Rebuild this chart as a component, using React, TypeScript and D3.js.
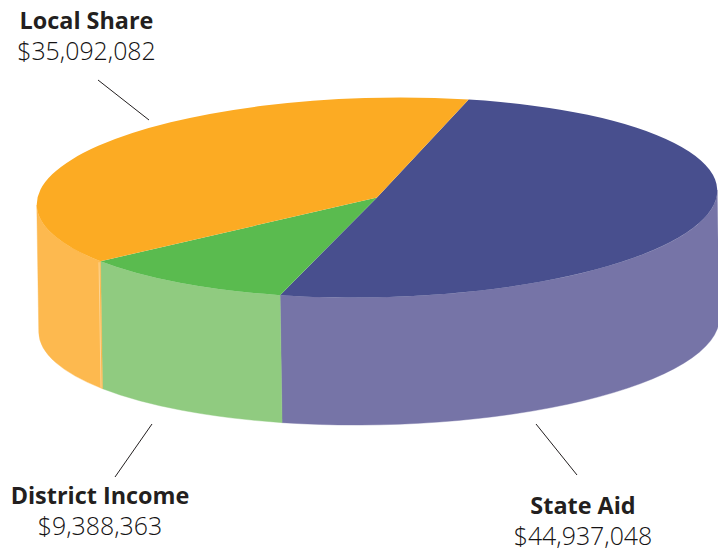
import React from "react";
import * as d3 from "d3";

const categories = ["State Aid", "District Income", "Local Share"];
const amounts = [44937048, 9388363, 35092082];
const amountLabels = ["$44,937,048", "$9,388,363", "$35,092,082"];
const topColors = ["#484f8e", "#5abb4f", "#fcab23"];
const wallColors = ["#7674a7", "#90cb80", "#fdb94f"];

const W = 718, H = 548;
const cx = 377, cy = 197.5, rx = 340.3, ry = 99.8;
const extrudeX = 2, extrudeY = 127.5;
const tiltDeg = -1.26;
const tilt = (tiltDeg * Math.PI) / 180;
const start = (16 * Math.PI) / 180;
const FONT = "'Open Sans','Noto Sans',sans-serif";

const pie = d3.pie<number>().sort(null).startAngle(start).endAngle(start + 2 * Math.PI);
const arcs = pie(amounts);

const px = (a: number) => cx + rx * Math.sin(a) * Math.cos(tilt) + ry * Math.cos(a) * Math.sin(tilt);
const py = (a: number) => cy + rx * Math.sin(a) * Math.sin(tilt) - ry * Math.cos(a) * Math.cos(tilt);

function top(a0: number, a1: number) {
  const large = a1 - a0 > Math.PI ? 1 : 0;
  return `M${cx},${cy}L${px(a0)},${py(a0)}A${rx},${ry} ${tiltDeg} ${large} 1 ${px(a1)},${py(a1)}Z`;
}
function wall(a0: number, a1: number) {
  const s = Math.max(a0, Math.PI / 2);
  const e = Math.min(a1, (3 * Math.PI) / 2);
  if (e <= s) return "";
  return `M${px(s)},${py(s)}A${rx},${ry} ${tiltDeg} 0 1 ${px(e)},${py(e)}L${px(e) + extrudeX},${py(e) + extrudeY}A${rx},${ry} ${tiltDeg} 0 0 ${px(s) + extrudeX},${py(s) + extrudeY}Z`;
}

const labels = [
  { i: 2, x: 86.5, y: 29 },
  { i: 1, x: 100, y: 504 },
  { i: 0, x: 583, y: 514 },
];
const leaders = [
  [98, 80, 149, 120],
  [115, 477, 152, 424],
  [577, 475, 536, 424],
];

export default function App() {
  const seam = arcs[1].endAngle;
  return (
    <svg width={W} height={H} style={{ position: "fixed", left: 0, top: 0, background: "#fff" }}>
      {arcs.map((d, i) => (
        <path key={`w${i}`} d={wall(d.startAngle, d.endAngle)} fill={wallColors[i]} stroke={wallColors[i]} strokeWidth={0.4} />
      ))}
      <line x1={px(seam) - 1.5} y1={py(seam) + 1} x2={px(seam) - 1.5 + extrudeX} y2={py(seam) + extrudeY - 1} stroke="#fdd596" strokeWidth={1} />
      {arcs.map((d, i) => (
        <path key={`t${i}`} d={top(d.startAngle, d.endAngle)} fill={topColors[i]} />
      ))}
      {leaders.map((l, i) => (
        <line key={i} x1={l[0]} y1={l[1]} x2={l[2]} y2={l[3]} stroke="#231f20" strokeWidth={1} />
      ))}
      {labels.map((l) => (
        <g key={l.i} textAnchor="middle" fontFamily={FONT} fill="#231f20">
          <text x={l.x} y={l.y} fontWeight={700} fontSize={23.4}>{categories[l.i]}</text>
          <text x={l.x} y={l.y + 30.5} fontWeight={300} fontSize={24.9} fill="#141213">{amountLabels[l.i]}</text>
        </g>
      ))}
    </svg>
  );
}
